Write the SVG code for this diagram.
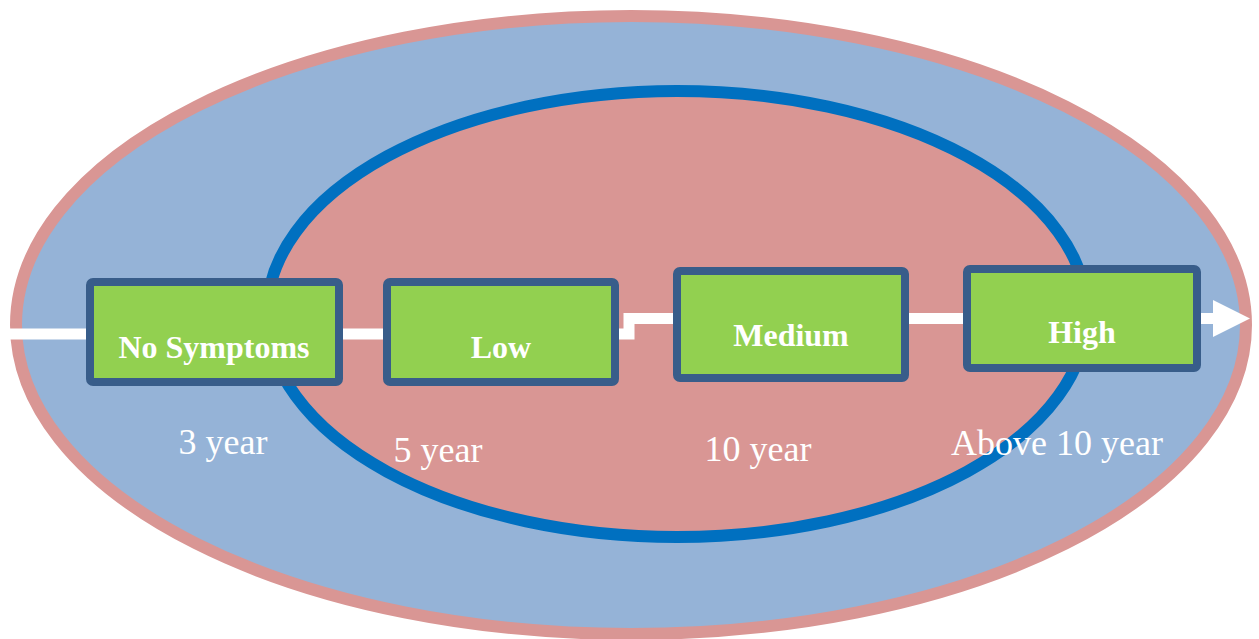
<svg xmlns="http://www.w3.org/2000/svg" width="1259" height="639" viewBox="0 0 1259 639">
  <style>
    .box { fill: #92D050; stroke: #385D8A; stroke-width: 8; }
    .boxlabel { font-family: "Liberation Serif", "Times New Roman", serif; font-size: 32px; font-weight: bold; fill: #FFFFFF; text-anchor: middle; }
    .yearlabel { font-family: "Liberation Serif", "Times New Roman", serif; font-size: 36px; fill: #FFFFFF; text-anchor: middle; }
    .flow { fill: none; stroke: #FFFFFF; stroke-width: 11; stroke-linejoin: miter; }
  </style>
  <defs>
    <marker id="arrow" markerUnits="userSpaceOnUse" markerWidth="38" markerHeight="38" refX="0" refY="18.5" orient="auto">
      <path d="M0,0 L37,18.5 L0,37 Z" fill="#FFFFFF"/>
    </marker>
  </defs>
  <rect width="1259" height="639" fill="#FFFFFF"/>
  <g id="outer-ellipse">
    <ellipse cx="631" cy="325" rx="615" ry="309" fill="#95B3D7" stroke="#D99694" stroke-width="12"/>
  </g>
  <g id="inner-ellipse">
    <ellipse cx="677" cy="314" rx="410" ry="223" fill="#D99694" stroke="#0070C0" stroke-width="12"/>
  </g>
  <g id="connectors">
    <polyline class="flow" points="10,334 629,334 629,318.5 1213,318.5" marker-end="url(#arrow)"/>
  </g>
  <g id="node-no-symptoms">
    <rect class="box" x="90" y="282" width="249" height="100" rx="3"/>
    <text class="boxlabel" x="214" y="358">No Symptoms</text>
  </g>
  <g id="node-low">
    <rect class="box" x="387" y="282" width="228" height="100" rx="3"/>
    <text class="boxlabel" x="501" y="358">Low</text>
  </g>
  <g id="node-medium">
    <rect class="box" x="677" y="271" width="228" height="107" rx="3"/>
    <text class="boxlabel" x="791" y="346">Medium</text>
  </g>
  <g id="node-high">
    <rect class="box" x="967" y="269" width="230" height="99" rx="3"/>
    <text class="boxlabel" x="1082" y="343">High</text>
  </g>
  <g id="year-labels">
    <text class="yearlabel" x="223" y="454">3 year</text>
    <text class="yearlabel" x="438" y="462">5 year</text>
    <text class="yearlabel" x="758" y="461">10 year</text>
    <text class="yearlabel" x="1057" y="455">Above 10 year</text>
  </g>
</svg>
